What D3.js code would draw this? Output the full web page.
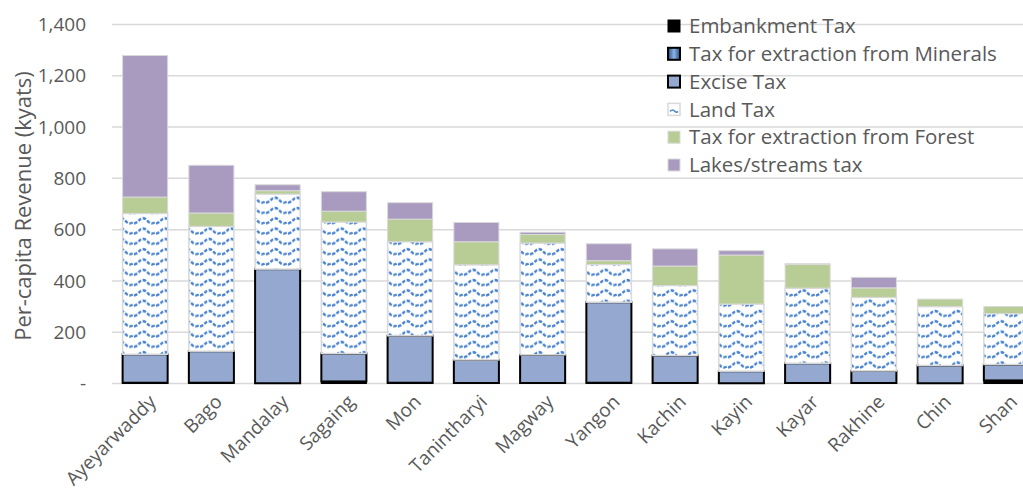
<!DOCTYPE html>
<html>
<head>
<meta charset="utf-8">
<script src="https://cdn.jsdelivr.net/npm/d3@7"></script>
<style>
  body { margin: 0; background: #fff; }
  text { font-family: "Open Sans", "Noto Sans", sans-serif; fill: #595959; }
</style>
</head>
<body>
<svg id="chart" width="1023" height="503"></svg>
<script>
// categories and series (per-capita revenue, kyats)
var regions = ['Ayeyarwaddy', 'Bago', 'Mandalay', 'Sagaing', 'Mon', 'Tanintharyi', 'Magway',
    'Yangon', 'Kachin', 'Kayin', 'Kayar', 'Rakhine', 'Chin', 'Shan'];
var embankment = [3, 3, 1, 8, 3, 2, 2, 3, 2, 1, 2, 2, 1, 12];
var minerals   = [0, 0, 0, 0, 0, 0, 0, 0, 0, 0, 0, 0, 0, 0];
var excise     = [111, 123, 445, 109, 183, 90, 110, 314, 107, 47, 77, 47, 69, 62];
var landTax    = [549, 487, 293, 513, 367, 371, 436, 147, 273, 262, 293, 287, 230, 199];
var forest     = [64, 52, 13, 42, 88, 90, 33, 15, 76, 191, 92, 37, 29, 27];
var lakes      = [552, 186, 23, 76, 64, 75, 9, 66, 67, 17, 3, 41, 0, 0];
var seriesNames = ['Embankment Tax', 'Tax for extraction from Minerals', 'Excise Tax', 'Land Tax',
    'Tax for extraction from Forest', 'Lakes/streams tax'];
var yTicks = [0, 200, 400, 600, 800, 1000, 1200, 1400];

var keys = ['emb', 'min', 'exc', 'land', 'forest', 'lakes'];
var table = regions.map(function (r, i) {
    return {region: r, emb: embankment[i], min: minerals[i], exc: excise[i],
        land: landTax[i], forest: forest[i], lakes: lakes[i]};
});

var styles = {
    emb:    {fill: '#000000', stroke: '#000000', sw: 1},
    min:    {fill: 'url(#minGrad)', stroke: '#000000', sw: 2},
    exc:    {fill: '#95a9d0', stroke: '#000000', sw: 2},
    land:   {fill: 'url(#wave)', stroke: '#d9d9d9', sw: 1.5},
    forest: {fill: '#b8cd95', stroke: '#d9d9d9', sw: 1},
    lakes:  {fill: '#a99abf', stroke: '#d9d9d9', sw: 1}
};

var svg = d3.select('#chart');
var defs = svg.append('defs');

// wavy dashed pattern for land tax
var pat = defs.append('pattern')
    .attr('id', 'wave')
    .attr('patternUnits', 'userSpaceOnUse')
    .attr('width', 22).attr('height', 10.3)
    .attr('x', 2).attr('y', 0);
pat.append('rect').attr('width', 22).attr('height', 10.3).attr('fill', '#fff');
pat.append('path')
    .attr('d', 'M0,7 C4,7 5,2 9,2 C13,2 14,7 18,7 C20,7 21,6 22,5')
    .attr('fill', 'none')
    .attr('stroke', '#4a84d0')
    .attr('stroke-width', 2.4)
    .attr('stroke-dasharray', '3.5,1.6');

var grad = defs.append('linearGradient').attr('id', 'minGrad');
grad.append('stop').attr('offset', '0%').attr('stop-color', '#1f4e8c');
grad.append('stop').attr('offset', '50%').attr('stop-color', '#8fb4e3');
grad.append('stop').attr('offset', '100%').attr('stop-color', '#1f4e8c');

var x = d3.scaleBand()
    .domain(regions)
    .range([112, 1039.5])
    .paddingInner(0.32)
    .paddingOuter(0.16);

var y = d3.scaleLinear()
    .domain([0, 1400])
    .range([383.5, 24.5]);

// gridlines
svg.append('g')
    .selectAll('line')
    .data(yTicks)
    .enter()
    .append('line')
    .attr('x1', 112).attr('x2', 1023)
    .attr('y1', function (d) { return y(d); })
    .attr('y2', function (d) { return y(d); })
    .attr('stroke', '#d9d9d9')
    .attr('stroke-width', 1.5);

// y axis labels
var yAxis = d3.axisLeft(y)
    .tickValues(yTicks)
    .tickSize(0)
    .tickPadding(0)
    .tickFormat(function (d) { return d === 0 ? '-' : d3.format(',')(d); });
var gy = svg.append('g')
    .attr('transform', 'translate(86,0)')
    .call(yAxis);
gy.select('.domain').remove();
gy.selectAll('text')
    .style('font-size', '19px')
    .attr('fill', '#595959');

// stacked bars
var stack = d3.stack().keys(keys);
var layers = stack(table);

svg.append('g')
    .selectAll('g')
    .data(layers)
    .enter()
    .append('g')
    .each(function (layer) {
        var st = styles[layer.key];
        d3.select(this).selectAll('rect')
            .data(layer.filter(function (d) { return d[1] - d[0] > 0; }))
            .enter()
            .append('rect')
            .attr('x', function (d) { return x(d.data.region); })
            .attr('width', x.bandwidth())
            .attr('y', function (d) { return y(d[1]); })
            .attr('height', function (d) { return y(d[0]) - y(d[1]); })
            .attr('fill', st.fill)
            .attr('stroke', st.stroke)
            .attr('stroke-width', st.sw);
    });

// x axis labels
var gx = svg.append('g')
    .attr('transform', 'translate(0,395)');
gx.selectAll('text')
    .data(regions)
    .enter()
    .append('text')
    .attr('transform', function (d) {
        return 'translate(' + (x(d) + x.bandwidth() / 2 + 8) + ',4) rotate(-45)';
    })
    .attr('text-anchor', 'end')
    .attr('dy', '0.3em')
    .style('font-size', '19px')
    .text(function (d) { return d; });

// y axis title
svg.append('text')
    .attr('transform', 'translate(31,206) rotate(-90)')
    .attr('text-anchor', 'middle')
    .style('font-size', '22px')
    .text('Per-capita Revenue (kyats)');

// legend
var legend = svg.append('g').attr('transform', 'translate(668,26)');
var items = legend.selectAll('g')
    .data(keys)
    .enter()
    .append('g')
    .attr('transform', function (d, i) { return 'translate(0,' + (i * 27.8) + ')'; });
items.append('rect')
    .attr('x', 0).attr('y', -6)
    .attr('width', 12).attr('height', 12)
    .attr('fill', function (d) { return d === 'land' ? '#fff' : styles[d].fill; })
    .attr('stroke', function (d) { return styles[d].stroke; })
    .attr('stroke-width', function (d) { return Math.min(styles[d].sw, 2); });
items.filter(function (d) { return d === 'land'; })
    .append('path')
    .attr('d', 'M2,2 C4,0 5,0 7,2 C8,3 9,3 10,2')
    .attr('fill', 'none')
    .attr('stroke', '#4f87cf')
    .attr('stroke-width', 1.5);
items.append('text')
    .attr('x', 21)
    .attr('dy', '0.35em')
    .style('font-size', '20.5px')
    .text(function (d, i) { return seriesNames[i]; });
</script>
</body>
</html>
